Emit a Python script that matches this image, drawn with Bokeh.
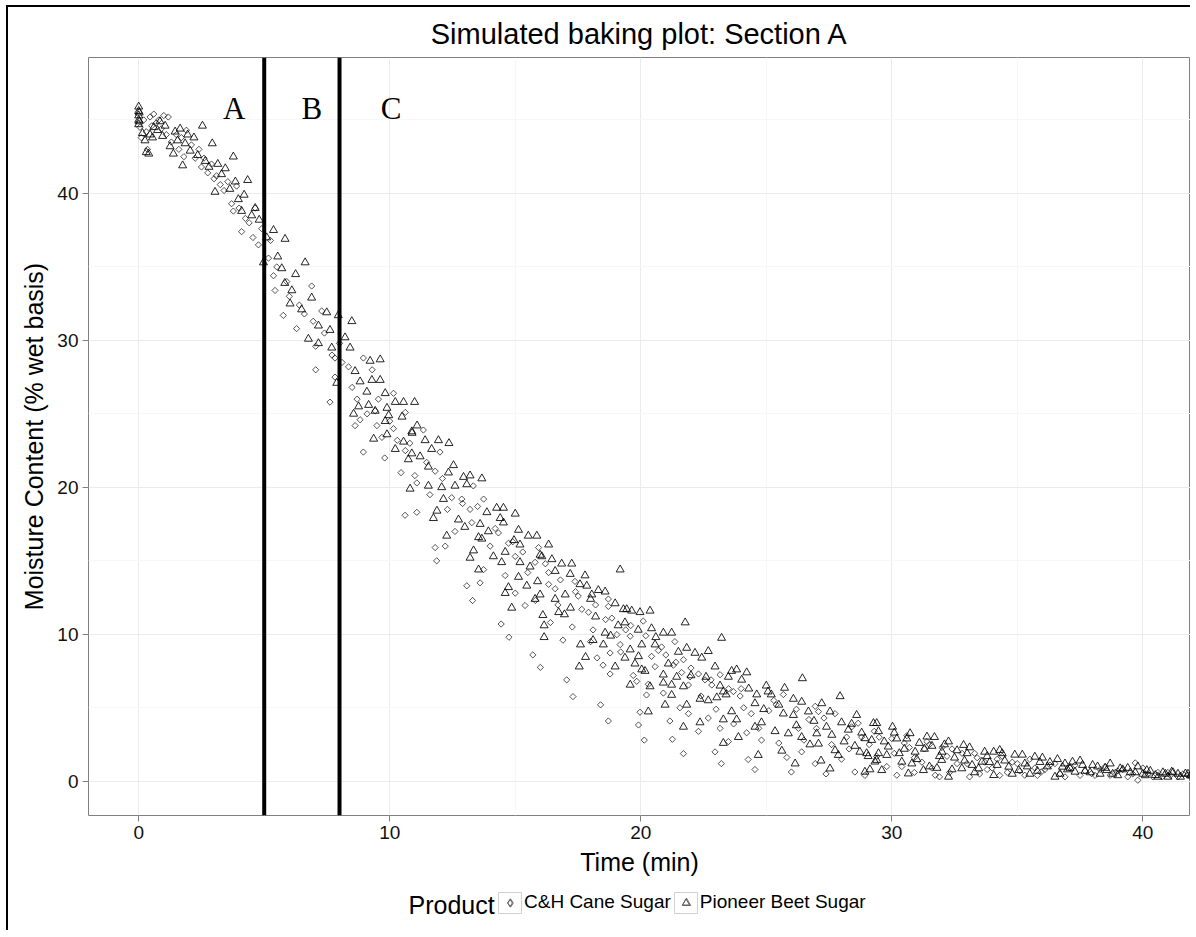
import math
from bokeh.plotting import figure
from bokeh.layouts import column
from bokeh.models import Span, Legend, LegendItem, Range1d, FixedTicker, ColumnDataSource, Label
from bokeh.core.properties import value
from bokeh.embed import file_html
from bokeh.resources import INLINE

# ---------------- data ----------------
beet_time = [
    0.00, 0.00, 0.00, 0.00, 0.00, 0.02, 0.02, 0.15, 0.25, 0.30,
    0.40, 0.45, 0.55, 0.60, 0.75, 0.85, 0.95, 1.05, 1.25, 1.38,
    1.45, 1.55, 1.65, 1.75, 1.85, 1.95, 2.05, 2.20, 2.35, 2.54,
    2.65, 2.80, 2.93, 3.04, 3.15, 3.30, 3.45, 3.63, 3.77, 3.85,
    3.97, 4.10, 4.20, 4.34, 4.50, 4.64, 4.80, 4.97, 5.10, 5.37,
    5.54, 5.70, 5.82, 5.83, 6.03, 6.10, 6.25, 6.49, 6.63, 6.76,
    6.89, 7.16, 7.16, 7.49, 7.62, 7.69, 7.89, 7.95, 8.22, 8.42,
    8.49, 8.56, 8.62, 8.76, 8.82, 9.09, 9.16, 9.22, 9.29, 9.36,
    9.42, 9.62, 9.62, 9.82, 9.82, 9.89, 9.89, 9.96, 10.22, 10.22,
    10.49, 10.55, 10.55, 10.74, 10.81, 10.88, 10.88, 10.89, 10.99, 11.09,
    11.21, 11.41, 11.54, 11.54, 11.67, 11.74, 11.88, 11.94, 12.07, 12.14,
    12.27, 12.34, 12.36, 12.54, 12.60, 12.74, 12.94, 12.99, 13.07, 13.20,
    13.20, 13.34, 13.54, 13.54, 13.60, 13.67, 13.67, 13.87, 13.93, 14.13,
    14.26, 14.40, 14.46, 14.53, 14.53, 14.60, 14.60, 14.73, 14.86, 14.95,
    15.00, 15.13, 15.13, 15.19, 15.19, 15.46, 15.52, 15.59, 15.79, 15.86,
    15.89, 15.99, 15.99, 16.06, 16.10, 16.15, 16.15, 16.33, 16.46, 16.59,
    16.59, 16.73, 16.85, 16.96, 16.99, 17.19, 17.20, 17.25, 17.55, 17.58,
    17.60, 17.78, 17.80, 17.85, 18.00, 18.05, 18.10, 18.31, 18.51, 18.58,
    18.58, 18.98, 18.98, 19.18, 19.31, 19.37, 19.37, 19.44, 19.58, 19.58,
    19.64, 19.77, 19.91, 19.97, 20.04, 20.04, 20.17, 20.30, 20.37, 20.37,
    20.43, 20.57, 20.90, 20.90, 20.90, 20.97, 21.10, 21.23, 21.23, 21.23,
    21.43, 21.70, 21.70, 21.77, 21.83, 21.83, 22.16, 22.36, 22.36, 22.43,
    22.69, 22.69, 22.96, 23.03, 23.16, 23.22, 23.29, 23.29, 23.29, 23.49,
    23.62, 23.62, 23.82, 23.82, 23.89, 24.02, 24.22, 24.55, 24.55, 24.62,
    24.68, 24.81, 25.00, 25.07, 25.20, 25.35, 25.62, 25.68, 25.73, 25.88,
    26.08, 26.08, 26.15, 26.41, 26.41, 26.44, 26.68, 26.74, 27.01, 27.08,
    27.18, 27.21, 27.54, 27.54, 27.61, 27.74, 27.87, 27.94, 28.00, 28.27,
    28.53, 28.60, 28.73, 28.93, 28.93, 29.06, 29.13, 29.20, 29.27, 29.33,
    29.40, 29.40, 29.47, 29.47, 29.60, 29.80, 29.86, 30.03, 30.20, 30.40,
    30.50, 30.66, 30.73, 30.93, 31.00, 31.26, 31.40, 31.60, 31.80, 31.99,
    32.00, 32.26, 32.26, 32.50, 32.79, 32.86, 33.00, 33.20, 33.46, 33.59,
    33.80, 34.06, 34.06, 34.30, 34.50, 34.66, 34.90, 35.06, 35.30, 35.50,
    35.70, 35.90, 36.20, 36.50, 36.60, 36.80, 37.00, 37.20, 37.30, 37.60,
    37.90, 38.20, 38.56, 38.80, 39.10, 39.40, 39.70, 40.00, 40.16, 40.50,
    40.80, 41.00, 41.15, 41.40, 41.70, 41.90,
    18.20, 18.80, 19.10, 19.90, 20.60, 21.50, 22.00, 22.60, 23.40, 24.30,
    24.90, 25.50, 26.20, 26.90, 27.40, 28.10, 28.40, 28.80, 29.00, 29.70,
    30.10, 30.30, 30.60, 30.80, 31.10, 31.30, 31.50, 31.70, 31.90, 32.10,
    32.40, 32.60, 32.90, 33.10, 33.30, 33.70, 33.90, 34.20, 34.40, 34.80,
    35.20, 35.40, 35.80, 36.00, 36.30, 36.70, 36.90, 37.10, 37.50, 37.70,
    38.00, 38.30, 38.50, 38.70, 39.00, 39.20, 39.50, 39.80, 40.10, 40.30,
    40.60, 40.90, 41.20, 41.50, 41.80,
]
beet_moisture = [
    45.9, 45.6, 45.3, 45.0, 44.7, 45.5, 44.9, 44.1, 43.6, 42.8,
    42.7, 44.0, 43.8, 44.5, 44.3, 44.9, 43.9, 44.6, 43.2, 42.7,
    44.2, 43.6, 44.4, 41.9, 43.4, 44.0, 42.9, 43.8, 42.6, 44.6,
    42.2, 41.8, 43.4, 40.1, 42.0, 41.3, 41.7, 40.3, 42.5, 40.8,
    39.6, 38.8, 39.9, 40.9, 38.5, 39.0, 38.2, 35.3, 37.0, 37.5,
    35.7, 34.9, 33.9, 36.9, 32.5, 33.4, 34.5, 32.1, 35.3, 30.1,
    32.9, 31.0, 29.8, 31.9, 30.7, 29.5, 27.1, 31.7, 30.2, 29.5,
    31.3, 25.0, 27.9, 25.5, 27.2, 26.5, 25.6, 28.6, 27.3, 23.3,
    25.2, 28.7, 27.3, 26.4, 24.5, 25.4, 23.6, 24.9, 25.8, 22.6,
    24.8, 25.8, 23.1, 21.9, 19.9, 23.8, 22.3, 23.7, 25.8, 24.2,
    22.1, 23.2, 21.4, 20.1, 22.6, 17.9, 18.4, 23.2, 20.0, 19.2,
    16.7, 21.0, 23.0, 21.5, 20.1, 17.8, 20.7, 17.3, 20.2, 20.8,
    15.2, 15.7, 16.6, 14.4, 17.5, 20.6, 16.5, 18.3, 17.0, 15.3,
    18.6, 17.9, 14.9, 18.6, 17.6, 15.6, 12.8, 13.2, 11.8, 16.4,
    18.2, 17.1, 13.9, 16.1, 14.9, 13.3, 16.7, 14.6, 12.4, 16.7,
    13.6, 15.4, 12.7, 15.3, 11.3, 10.6, 9.8, 16.1, 15.1, 14.3,
    12.4, 11.5, 14.8, 11.35, 12.7, 14.1, 11.8, 14.8, 7.8, 13.4,
    9.3, 14.0, 8.45, 13.3, 12.4, 12.7, 9.6, 13.0, 9.3, 12.9,
    10.1, 12.1, 7.8, 14.4, 11.7, 10.8, 8.4, 11.7, 8.96, 6.56,
    11.6, 8.0, 8.5, 11.5, 9.3, 7.6, 7.5, 4.74, 11.6, 6.45,
    10.4, 9.3, 10.1, 7.25, 6.7, 5.2, 8.0, 10.1, 6.56, 5.87,
    7.1, 6.45, 3.7, 10.8, 9.07, 5.2, 8.73, 5.6, 4.0, 8.4,
    8.85, 5.5, 7.8, 5.7, 6.5, 9.75, 6.1, 4.2, 2.6, 7.1,
    7.5, 4.75, 7.6, 4.2, 3.0, 6.9, 7.4, 5.3, 3.7, 5.9,
    1.78, 4.0, 6.5, 6.1, 5.9, 3.4, 2.07, 4.6, 6.35, 3.25,
    5.6, 4.5, 1.2, 5.4, 3.0, 7.0, 4.74, 2.5, 3.25, 2.55,
    1.4, 5.3, 4.74, 0.86, 3.15, 2.1, 1.78, 5.78, 4.0, 3.5,
    2.4, 4.5, 2.0, 2.92, 0.64, 1.7, 0.8, 2.8, 3.95, 1.33,
    3.95, 1.44, 3.4, 1.9, 0.75, 1.78, 2.35, 3.7, 2.9, 1.32,
    2.2, 0.52, 3.26, 2.0, 1.5, 0.75, 3.03, 2.4, 0.9, 1.44,
    2.0, 2.7, 0.3, 1.6, 0.87, 2.46, 1.9, 1.1, 0.87, 1.32,
    1.7, 2.0, 0.41, 2.12, 1.4, 0.98, 1.8, 0.75, 1.2, 0.5,
    1.66, 1.3, 1.0, 0.3, 1.5, 0.98, 0.8, 1.32, 0.64, 1.1,
    0.6, 1.0, 0.75, 0.5, 0.87, 0.9, 0.6, 0.5, 0.75, 0.41,
    0.6, 0.3, 0.64, 0.5, 0.52, 0.4,
    11.2, 9.9, 10.6, 10.3, 9.8, 8.8, 7.2, 7.1, 5.9, 6.3,
    4.9, 5.2, 3.8, 4.1, 3.7, 2.7, 3.9, 3.3, 1.9, 2.7,
    3.3, 1.9, 2.9, 1.2, 2.6, 2.2, 1.0, 3.0, 1.7, 2.5,
    0.8, 2.1, 1.4, 2.3, 0.6, 2.0, 1.3, 1.1, 1.9, 0.5,
    1.8, 1.0, 0.7, 1.6, 1.3, 0.5, 1.2, 0.9, 1.4, 0.7,
    1.1, 0.5, 0.9, 1.2, 0.4, 0.8, 0.6, 1.0, 0.4, 0.7,
    0.3, 0.5, 0.6, 0.3, 0.5,
]

cane_time = [
    0.05, 0.10, 0.20, 0.30, 0.35, 0.45, 0.52, 0.60, 0.70, 0.80,
    0.90, 1.00, 1.10, 1.18, 1.30, 1.50, 1.60, 1.70, 1.80, 1.90,
    2.10, 2.25, 2.40, 2.50, 2.60, 2.75, 2.90, 3.00, 3.10, 3.25,
    3.40, 3.55, 3.70, 3.77, 3.90, 4.00, 4.10, 4.25, 4.40, 4.55,
    4.64, 4.77, 4.90, 5.17, 5.25, 5.37, 5.43, 5.50, 5.76, 5.90,
    6.00, 6.29, 6.40, 6.60, 6.89, 6.95, 7.05, 7.05, 7.29, 7.40,
    7.62, 7.70, 7.82, 7.82, 8.00, 8.10, 8.36, 8.50, 8.62, 8.70,
    8.82, 8.95, 8.95, 9.10, 9.30, 9.42, 9.49, 9.55, 9.69, 9.80,
    10.00, 10.15, 10.15, 10.30, 10.45, 10.61, 10.62, 10.62, 10.80, 11.00,
    11.08, 11.08, 11.34, 11.47, 11.60, 11.81, 11.81, 11.87, 12.00, 12.21,
    12.30, 12.47, 12.60, 12.87, 13.07, 13.20, 13.27, 13.30, 13.33, 13.60,
    13.74, 13.74, 14.00, 14.33, 14.44, 14.60, 14.73, 14.75, 15.00, 15.00,
    15.39, 15.50, 15.70, 15.79, 15.80, 15.93, 16.00, 16.33, 16.33, 16.40,
    16.59, 16.70, 16.90, 17.05, 17.27, 17.30, 17.38, 17.51, 17.65, 17.92,
    18.10, 18.26, 18.40, 18.60, 18.71, 18.71, 18.71, 18.78, 18.78, 18.85,
    19.05, 19.18, 19.40, 19.58, 19.84, 19.91, 19.97, 20.10, 20.14, 20.23,
    20.43, 20.57, 20.83, 21.00, 21.16, 21.26, 21.36, 21.56, 21.63, 21.70,
    21.70, 21.90, 21.96, 22.30, 22.30, 22.56, 22.69, 22.83, 22.96, 23.16,
    23.16, 23.21, 23.49, 23.69, 23.96, 24.22, 24.28, 24.55, 24.81, 25.10,
    25.40, 25.68, 25.82, 26.00, 26.28, 26.41, 26.70, 26.95, 26.95, 27.08,
    27.38, 27.74, 28.00, 28.20, 28.53, 28.66, 28.93, 29.10, 29.50, 29.80,
    30.20, 30.50, 30.90, 31.30, 31.73, 31.90, 32.20, 32.60, 33.10, 33.40,
    33.80, 34.20, 34.60, 35.00, 35.30, 35.70, 35.96, 36.30, 36.70, 37.10,
    37.50, 37.96, 38.30, 38.70, 39.00, 39.40, 39.70, 39.80, 40.20, 40.76,
    41.00, 41.40, 41.80,
    12.10, 12.90, 13.50, 14.20, 14.90, 15.30, 16.20, 16.80, 17.40, 18.20,
    19.60, 20.20, 20.70, 21.40, 22.00, 22.80, 23.50, 24.00, 24.40, 25.30,
    26.20, 27.30, 28.40, 29.30, 30.00, 30.70, 31.50, 32.40, 33.30, 34.40,
    18.00, 18.50, 19.20, 19.70, 20.30, 20.90, 21.30, 21.90, 22.40, 23.00,
    23.70, 24.10, 24.70, 25.50, 26.50, 27.00, 27.60, 28.30, 28.80, 29.40,
    30.10, 30.40, 30.60, 30.90, 31.20, 31.40, 31.60, 32.00, 32.30, 32.80,
    33.00, 33.50, 33.70, 34.00, 34.30, 34.80, 35.10, 35.50, 35.80, 36.10,
    36.50, 36.90, 37.30, 37.70, 38.10, 38.50, 38.90, 39.20, 39.60, 40.00,
    40.40, 40.60, 41.10, 41.60, 41.90,
]
cane_moisture = [
    44.5, 43.8, 45.0, 44.2, 43.0, 45.2, 44.6, 45.4, 44.8, 45.0,
    44.4, 45.3, 44.0, 45.2, 43.5, 44.0, 43.0, 43.8, 42.5, 44.3,
    43.3, 42.4, 43.0, 41.8, 42.4, 41.4, 42.0, 41.0, 41.2, 40.6,
    40.2, 40.8, 39.3, 38.8, 40.5, 39.0, 37.4, 38.3, 38.0, 37.0,
    39.0, 36.5, 37.6, 35.6, 36.8, 34.4, 33.4, 35.0, 31.7, 34.0,
    33.0, 30.8, 32.4, 31.8, 33.7, 31.3, 29.6, 28.0, 32.0, 30.5,
    25.8, 29.0, 28.8, 27.5, 29.8, 28.5, 28.2, 26.8, 24.2, 26.0,
    24.6, 28.8, 22.4, 25.0, 28.0, 25.2, 24.2, 26.0, 23.4, 22.0,
    24.5, 26.4, 24.0, 23.2, 21.0, 18.1, 25.1, 22.5, 23.0, 20.8,
    20.3, 18.3, 23.9, 21.7, 19.5, 21.1, 15.9, 15.0, 22.4, 16.0,
    18.5, 19.3, 17.0, 19.2, 13.3, 18.5, 17.6, 12.3, 20.1, 13.5,
    19.2, 14.4, 16.0, 16.9, 10.7, 14.0, 16.2, 9.8, 15.3, 12.8,
    11.96, 14.2, 8.6, 14.9, 12.3, 15.9, 7.75, 14.2, 13.4, 10.8,
    13.1, 12.0, 9.6, 6.9, 10.5, 5.76, 13.6, 12.6, 11.7, 11.5,
    10.3, 8.4, 5.2, 11.0, 12.4, 11.9, 4.1, 8.73, 7.3, 11.1,
    9.98, 9.3, 10.3, 9.87, 6.8, 3.83, 4.7, 10.9, 2.8, 5.87,
    8.5, 7.8, 9.14, 8.6, 4.1, 2.86, 9.5, 5.0, 7.4, 8.27,
    1.88, 6.55, 7.1, 7.3, 3.4, 6.9, 4.3, 6.55, 2.0, 7.25,
    3.6, 1.2, 2.7, 6.1, 5.8, 3.3, 1.48, 0.8, 2.8, 4.8,
    5.2, 5.9, 1.62, 0.63, 3.6, 2.0, 4.2, 5.1, 1.2, 4.74,
    0.5, 4.6, 1.5, 3.0, 0.63, 3.95, 0.4, 2.5, 3.0, 1.0,
    0.41, 2.6, 1.6, 2.2, 0.41, 0.3, 1.7, 1.2, 0.3, 1.6,
    0.8, 1.5, 0.6, 1.2, 0.41, 0.9, 0.64, 1.1, 0.5, 0.9,
    0.4, 0.52, 0.8, 0.4, 0.7, 0.3, 1.25, 0.07, 0.5, 0.3,
    0.6, 0.3, 0.4,
    20.6, 18.9, 18.7, 17.2, 16.3, 15.6, 14.8, 13.7, 12.9, 12.0,
    10.6, 9.9, 8.9, 8.1, 7.7, 6.9, 6.3, 6.3, 4.6, 5.5,
    4.9, 4.3, 3.7, 3.4, 2.9, 2.3, 2.5, 2.2, 1.9, 1.7,
    9.5, 7.9, 8.8, 7.2, 6.6, 6.0, 7.9, 4.6, 5.8, 4.9,
    3.9, 5.0, 3.6, 2.6, 2.8, 3.6, 2.5, 2.2, 3.0, 1.7,
    1.9, 1.0, 3.1, 0.6, 1.3, 2.7, 0.9, 2.3, 0.6, 1.9,
    1.2, 0.5, 1.3, 0.9, 0.4, 1.3, 0.7, 1.5, 0.4, 0.8,
    1.2, 0.3, 1.1, 0.7, 0.4, 1.0, 0.6, 0.8, 0.5, 0.9,
    0.3, 0.6, 0.4, 0.5, 0.3,
]

series_names = ["C&H Cane Sugar", "Pioneer Beet Sugar"]
legend_title = "Product"
section_bounds = [5, 8]
section_names = ["A", "B", "C"]
section_label_x = [3.8, 6.9, 10.05]
section_label_y = [45.8, 45.8, 45.8]
x_major = [0, 10, 20, 30, 40]
x_minor = [5, 15, 25, 35]
y_major = [0, 10, 20, 30, 40]
y_minor = [5, 15, 25, 35, 45]

nb = min(len(beet_time), len(beet_moisture))
nc = min(len(cane_time), len(cane_moisture))
beet_src = ColumnDataSource(dict(x=beet_time[:nb], y=beet_moisture[:nb]))
cane_src = ColumnDataSource(dict(x=cane_time[:nc], y=cane_moisture[:nc]))

FONT = "Liberation Sans"
W = 1182

# ---------------- main plot ----------------
p = figure(width=W, height=883,
           x_range=Range1d(-2, 41.90), y_range=Range1d(-2.33, 49.25),
           output_backend="svg", toolbar_location=None,
           min_border_left=80, min_border_right=0, min_border_top=50, min_border_bottom=75,
           title="Simulated baking plot: Section A")

p.title.align = "center"
p.title.text_font = FONT
p.title.text_font_size = "29px"
p.title.text_font_style = "normal"
p.title.text_color = "black"
p.title.standoff = 16

p.outline_line_color = "#808080"
p.outline_line_width = 1
p.background_fill_color = "white"
p.border_fill_color = "white"

p.xaxis.ticker = FixedTicker(ticks=x_major, minor_ticks=x_minor)
p.yaxis.ticker = FixedTicker(ticks=y_major, minor_ticks=y_minor)
for ax in (p.xaxis[0], p.yaxis[0]):
    ax.axis_line_color = None
    ax.major_tick_line_color = "#808080"
    ax.major_tick_out = 6
    ax.major_tick_in = 0
    ax.minor_tick_line_color = None
    ax.major_label_text_font = FONT
    ax.major_label_text_font_size = "19px"
    ax.major_label_text_color = "#111111"
    ax.axis_label_text_font = FONT
    ax.axis_label_text_font_size = "25px"
    ax.axis_label_text_font_style = "normal"
    ax.axis_label_text_color = "black"
    ax.major_label_standoff = 4
    ax.axis_label_standoff = 6
p.xaxis.axis_label = "Time (min)"
p.yaxis.axis_label = "Moisture Content (% wet basis)"

p.xgrid.grid_line_color = "#ebebeb"
p.ygrid.grid_line_color = "#ebebeb"
p.xgrid.minor_grid_line_color = "#f7f7f7"
p.ygrid.minor_grid_line_color = "#f7f7f7"

r_cane = p.scatter("x", "y", source=cane_src, marker="square", angle=math.pi / 4, size=4.4,
                   fill_color=None, line_color="black", line_alpha=0.75, line_width=0.9)
r_beet = p.scatter("x", "y", source=beet_src, marker="triangle", size=8,
                   fill_color=None, line_color="black", line_alpha=0.85, line_width=1)

for b in section_bounds:
    p.add_layout(Span(location=b, dimension="height", line_color="black", line_width=4))

p.text(x=section_label_x, y=section_label_y, text=section_names,
       text_font=value("Liberation Serif"), text_font_size="31px",
       text_align="center", text_baseline="middle", text_color="black")

# ---------------- legend strip (pixel coordinates from the frame's left edge) ----------------
LH = 40
leg = figure(width=W, height=LH, x_range=Range1d(0, 1102), y_range=Range1d(0, LH),
             output_backend="svg", toolbar_location=None,
             min_border=0, min_border_left=0, min_border_right=0,
             min_border_top=0, min_border_bottom=0)
leg.axis.visible = False
leg.grid.visible = False
leg.outline_line_color = None
leg.background_fill_color = "white"
leg.border_fill_color = "white"

key_x = [421.5, 597.5]
key_y = [27.5, 27.5]
leg.rect(x=key_x, y=key_y, width=23, height=21, width_units="screen", height_units="screen",
         fill_color="white", line_color="#d0d0d0", line_width=1)

k_cane = leg.scatter(x=key_x[:1], y=key_y[:1], marker="diamond", size=7,
                     fill_color=None, line_color="#555555", line_width=0.9)
k_beet = leg.scatter(x=key_x[1:], y=key_y[1:], marker="triangle", size=7,
                     fill_color=None, line_color="#555555", line_width=0.9)

legend = Legend(items=[LegendItem(label=series_names[0], renderers=[k_cane]),
                       LegendItem(label=series_names[1], renderers=[k_beet])],
                orientation="horizontal", location=(411, 17))
legend.label_text_font = FONT
legend.label_text_font_size = "19px"
legend.label_text_color = "black"
legend.border_line_color = None
legend.background_fill_alpha = 0
legend.glyph_width = 22
legend.glyph_height = 21
legend.label_standoff = 3
legend.spacing = 4
legend.padding = 0
legend.margin = 0
leg.add_layout(legend, "center")

leg.add_layout(Label(x=320, y=26, text=legend_title, text_font=FONT, text_font_size="25px",
                     text_align="left", text_baseline="middle", text_color="black"))

layout = column(p, leg, spacing=0)
layout.styles = {"border-left": "2px solid black", "border-top": "2px solid black",
                 "margin-left": "6px", "margin-top": "5px"}

open("out.html", "w").write(file_html(layout, INLINE, title="Simulated baking plot"))
